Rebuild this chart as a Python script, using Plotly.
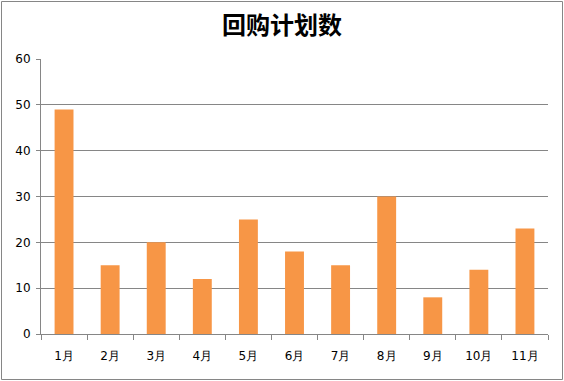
import plotly.graph_objects as go

categories = ["1月", "2月", "3月", "4月", "5月", "6月", "7月", "8月", "9月", "10月", "11月"]
values = [49, 15, 20, 12, 25, 18, 15, 30, 8, 14, 23]
y_ticks = [0, 10, 20, 30, 40, 50, 60]

grey = "#868686"
fig = go.Figure(go.Bar(x=categories, y=values, marker=dict(color="#F79646", line=dict(width=0))))

L, R, T, B = 41, 16, 59, 47
PW, PH = 564 - L - R, 381 - T - B
fig.update_layout(
    width=564, height=381,
    margin=dict(l=L, r=R, t=T, b=B),
    paper_bgcolor="white", plot_bgcolor="white",
    bargap=0.59,
    showlegend=False,
    title=dict(text="<b>回购计划数</b>", x=0.5, xanchor="center", y=1 - 26 / 381, yanchor="middle",
               font=dict(family="Noto Sans CJK SC", size=24, color="black")),
    font=dict(family="DejaVu Sans, Verdana, sans-serif", size=12, color="black"),
    shapes=[dict(type="rect", xref="paper", yref="paper",
                 x0=(1.5 - L) / PW, x1=(562.5 - L) / PW,
                 y0=(381 - B - 379.5) / PH, y1=(381 - B - 1.5) / PH,
                 line=dict(color=grey, width=1), layer="below")],
)
fig.update_xaxes(showline=True, linecolor=grey, linewidth=1, ticks="outside", tickson="boundaries",
                 ticklen=5, tickcolor=grey, showgrid=False, tickfont=dict(size=12), ticklabelstandoff=11)
fig.update_yaxes(range=[0, 60], tickvals=y_ticks, showline=True, linecolor=grey, linewidth=1,
                 ticks="outside", ticklen=4, tickcolor=grey, showgrid=True, gridcolor=grey, gridwidth=1,
                 zeroline=False, tickfont=dict(size=12), ticklabelstandoff=3)

fig.write_html("out.html", config={"displayModeBar": False},
               post_script="document.body.style.margin='0';")
